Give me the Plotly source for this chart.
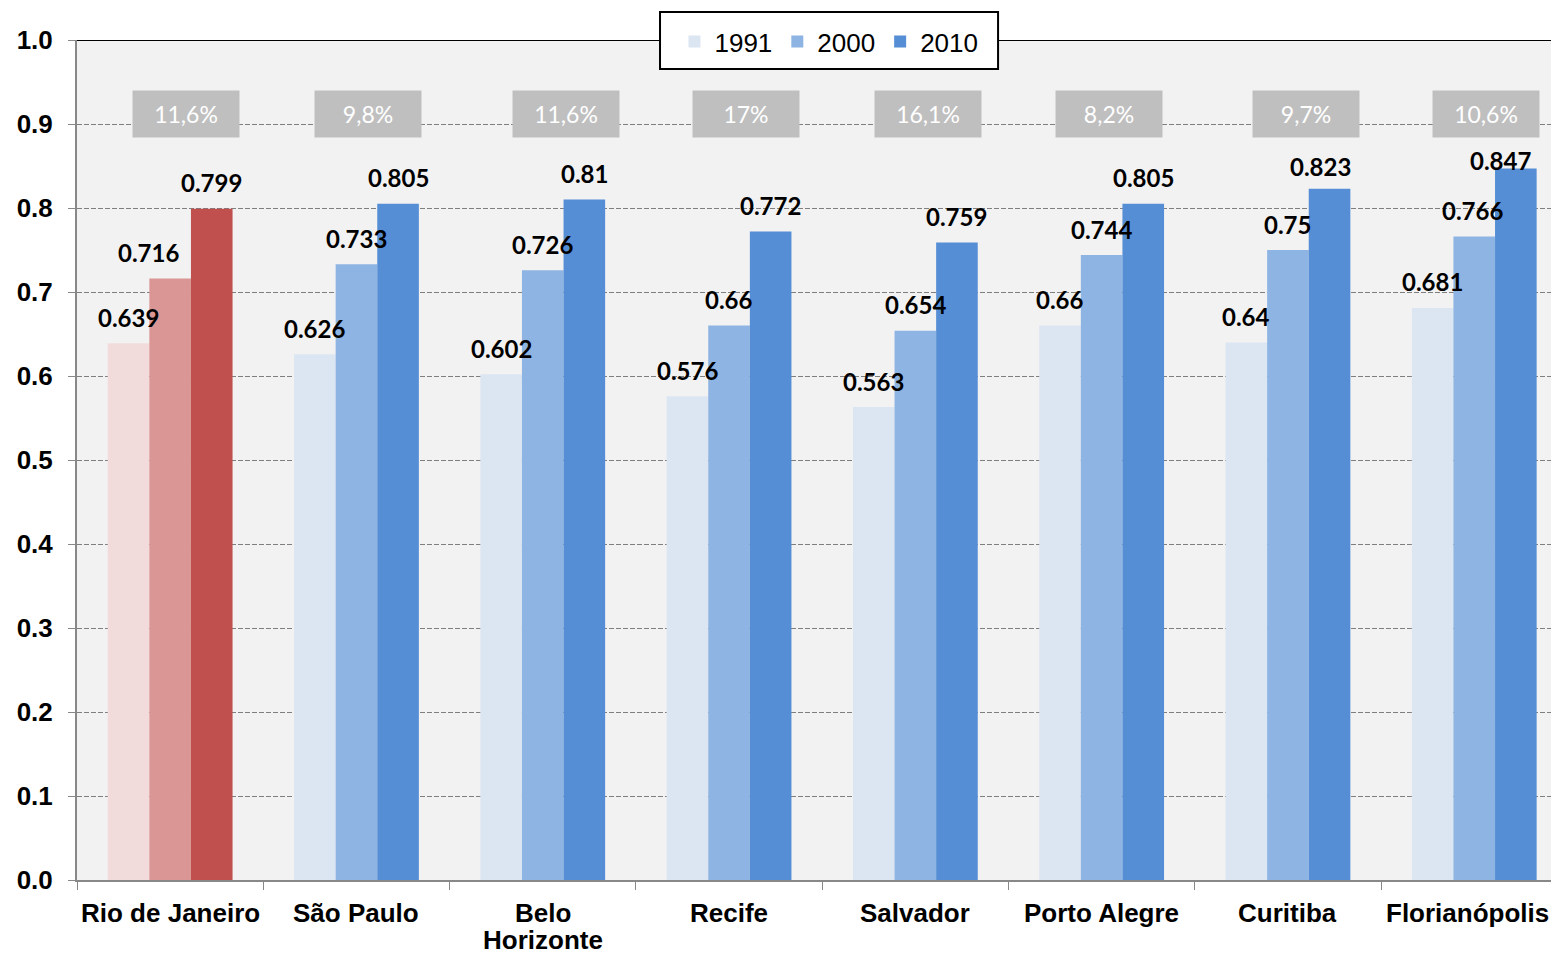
import plotly.graph_objects as go

cities = ["Rio de Janeiro", "São Paulo", "Belo<br>Horizonte", "Recife", "Salvador",
          "Porto Alegre", "Curitiba", "Florianópolis"]
years = ["1991", "2000", "2010"]
idh_1991 = [0.639, 0.626, 0.602, 0.576, 0.563, 0.66, 0.64, 0.681]
idh_2000 = [0.716, 0.733, 0.726, 0.66, 0.654, 0.744, 0.75, 0.766]
idh_2010 = [0.799, 0.805, 0.81, 0.772, 0.759, 0.805, 0.823, 0.847]
growth = ["11,6%", "9,8%", "11,6%", "17%", "16,1%", "8,2%", "9,7%", "10,6%"]

series = [idh_1991, idh_2000, idh_2010]
blues = ["#DCE6F2", "#8EB4E3", "#558ED5"]
reds = ["#F2DCDB", "#DA9694", "#C0504D"]

# label nudges (series index, city index) -> (dx px, dy px)
nudge = {(1, 0): (-22, 0), (2, 6): (-9, -4), (1, 7): (-2, 0), (2, 7): (-15, -18)}
box_dx = [16, 12, 23, 17, 13, 7, 18, 12]
cat_dx = {7: -7}

fig = go.Figure()
for i, (yr, vals) in enumerate(zip(years, series)):
    colors = [reds[i] if c == 0 else blues[i] for c in range(len(cities))]
    fig.add_trace(go.Bar(
        x=cities, y=vals, name=yr, showlegend=False,
        marker=dict(color=colors, line=dict(width=0)),
    ))
# legend entries (blue swatches) on a hidden axis pair
for i, yr in enumerate(years):
    fig.add_trace(go.Bar(
        x=[cities[0]], y=[None], name=yr, xaxis="x2", yaxis="y2",
        marker=dict(color=blues[i], line=dict(width=0)),
    ))

ann = []
bar_px = 41.6
for i, vals in enumerate(series):
    for c, v in enumerate(vals):
        dx, dy = nudge.get((i, c), (0, 0))
        ann.append(dict(
            x=cities[c], y=v, xref="x", yref="y", text=f"{v:g}",
            showarrow=False, xanchor="center", yanchor="middle",
            xshift=(i - 1) * bar_px + dx, yshift=26 + dy,
            font=dict(family="Lato", size=24, color="black", weight="bold"),
        ))
for c, g in enumerate(growth):
    ann.append(dict(
        x=cities[c], y=0.912, xref="x", yref="y", text=g, showarrow=False,
        xshift=box_dx[c],
        bgcolor="#BFBFBF", width=106, height=46, borderpad=0,
        font=dict(family="Lato", size=23, color="white"),
    ))
for c, name in enumerate(cities):
    for k, line in enumerate(name.split("<br>")):
        ann.append(dict(
            x=name, y=0, xref="x", yref="y", text=f"<b>{line}</b>", showarrow=False,
            xanchor="center", yanchor="top", yshift=-17 - 27 * k,
            xshift=cat_dx.get(c, 0), height=30, borderpad=0,
            font=dict(family="Liberation Sans", size=26, color="black"),
        ))

fig.update_layout(
    width=1551, height=946,
    margin=dict(l=69, r=0, t=32, b=74, autoexpand=False),
    paper_bgcolor="white", plot_bgcolor="#F2F2F2",
    barmode="group", bargap=0.33, bargroupgap=0,
    annotations=ann,
    legend=dict(
        orientation="h", x=0.5074, xanchor="center", y=1.026, yanchor="top",
        bgcolor="rgba(0,0,0,0)", borderwidth=0,
        font=dict(family="Liberation Sans", size=26, color="black"),
        itemwidth=30, traceorder="normal",
    ),
    xaxis=dict(range=[-0.5, 7.455], showgrid=False, automargin=False,
               showline=True, linecolor="#888888", linewidth=2,
               ticks="outside", tickson="boundaries", ticklen=8, tickcolor="#888888",
               showticklabels=False),
    yaxis=dict(range=[0, 1], dtick=0.1, tickformat=".1f", automargin=False,
               showgrid=True, gridcolor="#7F7F7F", griddash="5px,2px", gridwidth=1,
               showline=True, linecolor="#888888", linewidth=2,
               ticks="outside", ticklen=7, tickcolor="#888888", ticklabelstandoff=10,
               tickfont=dict(family="Liberation Sans", size=26, color="black",
                             weight="bold"),
               zeroline=False),
    xaxis2=dict(overlaying="x", visible=False, type="category",
                categoryarray=cities),
    yaxis2=dict(overlaying="y", visible=False, range=[0, 1]),
    shapes=[
        dict(type="line", xref="paper", yref="y", x0=0, x1=1, y0=1, y1=1,
             line=dict(color="black", width=2), layer="below"),
        dict(type="rect", xref="paper", yref="paper", x0=0.3934, x1=0.6215,
             y0=0.9655, y1=1.0333, fillcolor="white",
             line=dict(color="black", width=2), layer="above"),
    ],
)

fig.write_html("out.html")
